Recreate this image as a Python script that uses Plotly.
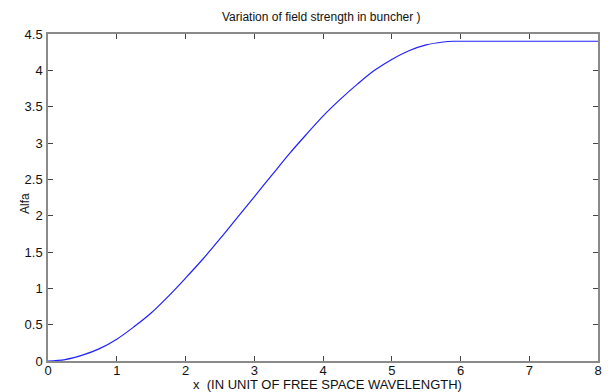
import plotly.graph_objects as go

x_vals = [0, 0.25, 0.5, 0.75, 1.0, 1.25, 1.5, 1.75, 2.0, 2.25, 2.5, 2.75, 3.0, 3.25,
          3.5, 3.75, 4.0, 4.25, 4.5, 4.75, 5.0, 5.25, 5.5, 5.75, 5.9, 6.0, 7.0, 8.0]
alfa = [0, 0.02, 0.08, 0.17, 0.30, 0.47, 0.66, 0.89, 1.14, 1.40, 1.68, 1.97, 2.26, 2.55,
        2.84, 3.11, 3.37, 3.60, 3.81, 4.00, 4.15, 4.27, 4.35, 4.39, 4.40, 4.40, 4.40, 4.40]
x_ticks = [0, 1, 2, 3, 4, 5, 6, 7, 8]
y_ticks = [0, 0.5, 1, 1.5, 2, 2.5, 3, 3.5, 4, 4.5]
y_tick_labels = ["0", "0.5", "1", "1.5", "2", "2.5", "3", "3.5", "4", "4.5"]

FONT = "Liberation Sans, Arial"

fig = go.Figure()
fig.add_trace(go.Scatter(x=x_vals, y=alfa, mode="lines",
                         line=dict(color="#2020ff", width=1.2, shape="spline"),
                         showlegend=False))

axis_common = dict(showgrid=False, zeroline=False, showline=True, linecolor="#8a8a8a",
                   linewidth=1.5, mirror="ticks", ticks="inside", ticklen=5,
                   tickcolor="#444", tickwidth=1, automargin=False,
                   tickfont=dict(family=FONT, size=13, color="#111"))

fig.update_layout(
    width=610, height=392,
    margin=dict(l=48, r=12, t=34, b=31),
    paper_bgcolor="white", plot_bgcolor="white",
    xaxis=dict(range=[0, 8], tickvals=x_ticks, ticklabelstandoff=-3, **axis_common),
    yaxis=dict(range=[0, 4.5], tickvals=y_ticks, ticktext=y_tick_labels,
               ticklabelstandoff=1, **axis_common),
    annotations=[
        dict(text="Variation of field strength in buncher )", xref="paper", yref="paper",
             x=0.497, y=1.0, yshift=17, xanchor="center", yanchor="middle", showarrow=False,
             font=dict(family=FONT, size=12, color="#111")),
        dict(text="x  (IN UNIT OF FREE SPACE WAVELENGTH)", xref="paper", yref="paper",
             x=0.508, y=0, yshift=-23, xanchor="center", yanchor="middle", showarrow=False,
             font=dict(family=FONT, size=13, color="#111")),
        dict(text="Alfa", xref="paper", yref="paper", x=0, xshift=-23, y=0.48,
             xanchor="center", yanchor="middle", textangle=-90, showarrow=False,
             font=dict(family=FONT, size=12, color="#111")),
    ],
)

fig.write_html("out.html", config={"displayModeBar": False},
               post_script="document.body.style.margin='0';document.body.style.overflow='hidden';")
